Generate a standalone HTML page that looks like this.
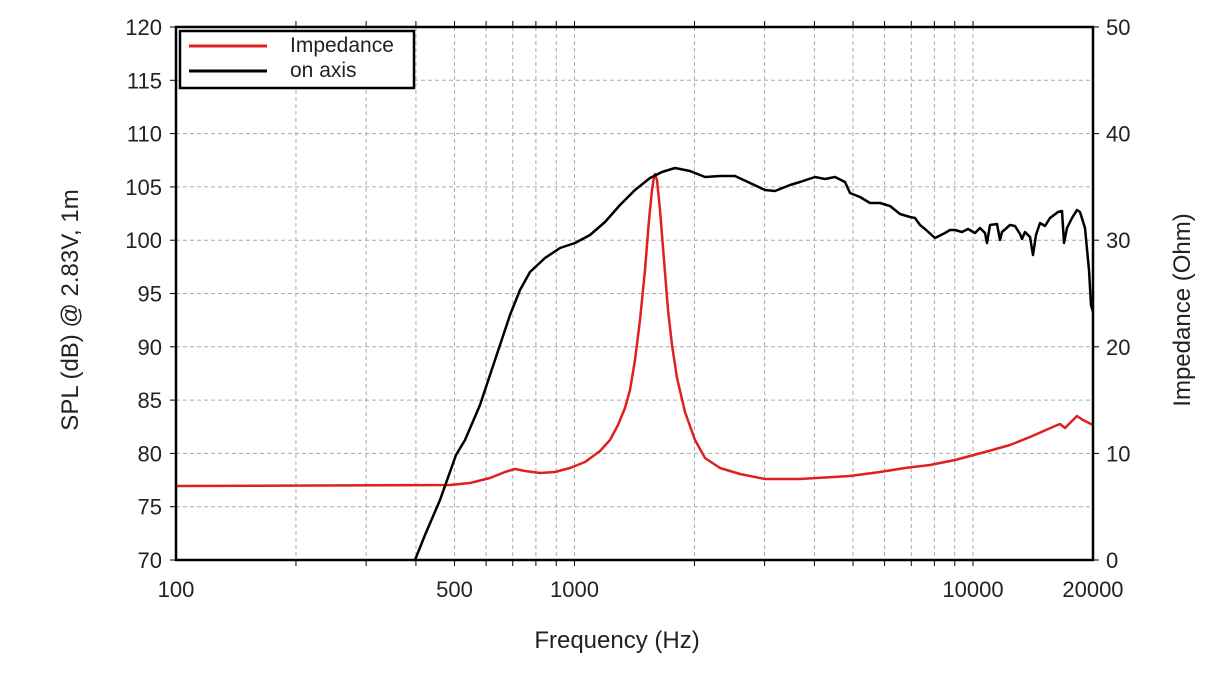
<!DOCTYPE html>
<html><head><meta charset="utf-8"><style>
html,body{margin:0;padding:0;background:#fff;}
svg text{font-family:"Liberation Sans","DejaVu Sans",sans-serif;fill:#222;}
</style></head><body>
<svg id="s" width="1214" height="673" viewBox="0 0 1214 673" xmlns="http://www.w3.org/2000/svg">
<g id="grid" stroke="#aaa" stroke-width="1" stroke-dasharray="4,3"></g>
<g id="ticks" stroke="#000" stroke-width="1"></g>
<g id="labels" font-size="22"></g>
<polyline fill="none" stroke="#e02020" stroke-width="2.5" stroke-linejoin="round" points="176,486 450,485 470,483 490,478 505,472 515,469 525,471 540,473 555,472 570,468 585,462 600,451 610,440 618,425 625,408 630,390 635,360 640,320 645,270 649,220 652,190 654,177 655,174 657,180 660,210 664,260 668,310 672,345 677,378 685,412 695,440 705,458 720,468 740,474 765,479 800,479 850,476 880,472 905,468 930,465 955,460 985,452 1010,445 1030,437 1055,426 1060,424 1065,428 1077,416 1083,420 1093,425"/>
<polyline fill="none" stroke="#000" stroke-width="2.5" stroke-linejoin="round" points="415,560 425,535 440,500 456,455 465,440 480,405 495,360 510,315 520,290 530,272 545,258 560,248 575,243 590,235 605,222 620,205 635,190 650,178 662,172 675,168 690,171 705,177 720,176 735,176 750,183 765,190 775,191 790,185 800,182 815,177 825,179 835,177 845,182 850,193 860,197 870,203 880,203 890,206 900,214 910,217 915,218 920,225 925,229 935,238 945,233 950,230 955,230 962,232 968,229 975,233 980,228 985,233 987,243 990,225 997,224 1000,240 1002,232 1010,225 1015,226 1020,234 1022,239 1025,232 1030,237 1033,255 1036,235 1040,223 1045,226 1050,218 1058,212 1062,211 1064,243 1067,228 1072,218 1077,210 1080,212 1085,228 1089,270 1091,305 1093,312"/>
<rect x="176" y="27" width="917" height="533" fill="none" stroke="#000" stroke-width="2.5"/>
<rect x="180" y="31" width="234" height="57" fill="#fff" stroke="#000" stroke-width="2.5"/>
<line x1="189" y1="46" x2="267" y2="46" stroke="#e02020" stroke-width="3"/>
<line x1="189" y1="71" x2="267" y2="71" stroke="#000" stroke-width="3"/>
<text x="290" y="52" font-size="21">Impedance</text>
<text x="290" y="77" font-size="21">on axis</text>
<text x="617" y="648" font-size="24" text-anchor="middle">Frequency (Hz)</text>
<text transform="translate(78,310) rotate(-90)" font-size="24" text-anchor="middle">SPL (dB) @ 2.83V, 1m</text>
<text transform="translate(1190,310) rotate(-90)" font-size="24" text-anchor="middle">Impedance (Ohm)</text>
</svg>
<script>
var ns="http://www.w3.org/2000/svg";
function el(p,t,a,txt){var e=document.createElementNS(ns,t);for(var k in a)e.setAttribute(k,a[k]);if(txt!=null)e.textContent=txt;document.getElementById(p).appendChild(e);}
function X(f){return 176+398.5*Math.log10(f/100);}
function Y(d){return 560-(d-70)*533/50;}
var fs=[];
for(var d=100;d<=10000;d*=10)for(var m=1;m<10;m++){var f=d*m;if(f>100&&f<20000)fs.push(f);}
fs.forEach(function(f){var x=X(f);el("grid","line",{x1:x,y1:27,x2:x,y2:560});el("ticks","line",{x1:x,y1:560,x2:x,y2:566});el("ticks","line",{x1:x,y1:27,x2:x,y2:21});});
for(var v=75;v<120;v+=5){var y=Y(v);el("grid","line",{x1:176,y1:y,x2:1093,y2:y});}
for(var v=70;v<=120;v+=5){var y=Y(v);el("ticks","line",{x1:170,y1:y,x2:176,y2:y});el("labels","text",{x:162,y:y+8,"text-anchor":"end"},String(v));}
for(var o=0;o<=50;o+=10){var y=560-o*533/50;el("ticks","line",{x1:1093,y1:y,x2:1099,y2:y});el("labels","text",{x:1106,y:y+8},String(o));}
[[100,"100"],[500,"500"],[1000,"1000"],[10000,"10000"],[20000,"20000"]].forEach(function(p){el("labels","text",{x:X(p[0]),y:597,"text-anchor":"middle"},p[1]);});
</script>
</body></html>
